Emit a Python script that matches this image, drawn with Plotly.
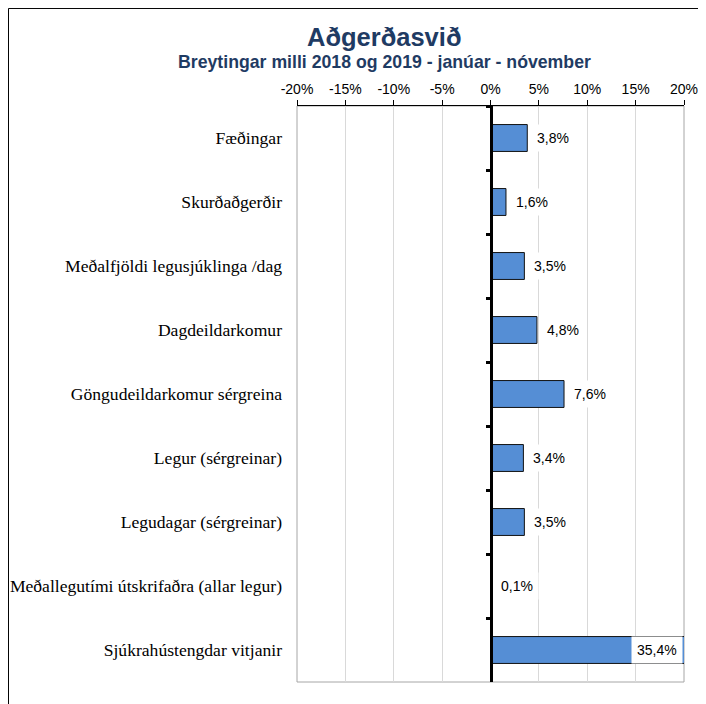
import plotly.graph_objects as go

categories = [
    "Fæðingar",
    "Skurðaðgerðir",
    "Meðalfjöldi legusjúklinga /dag",
    "Dagdeildarkomur",
    "Göngudeildarkomur sérgreina",
    "Legur (sérgreinar)",
    "Legudagar (sérgreinar)",
    "Meðallegutími útskrifaðra (allar legur)",
    "Sjúkrahústengdar vitjanir",
]
change_pct = [3.8, 1.6, 3.5, 4.8, 7.6, 3.4, 3.5, 0.1, 35.4]
x_ticks = [-20, -15, -10, -5, 0, 5, 10, 15, 20]
x_tick_labels = ["-20%", "-15%", "-10%", "-5%", "0%", "5%", "10%", "15%", "20%"]

title_text = "Aðgerðasvið"
subtitle_text = "Breytingar milli 2018 og 2019 - janúar - nóvember"

x_min, x_max = -20, 20
navy = "#1F3B63"
sans = "Liberation Sans, Arial, sans-serif"
serif = "Liberation Serif, Times New Roman, serif"

fig = go.Figure()

fig.add_trace(go.Bar(
    x=change_pct, y=categories, orientation="h", width=0.42,
    marker=dict(color="#558ED5", line=dict(color="#111111", width=1)),
    hoverinfo="x+y", showlegend=False,
))

# invisible helper trace so the zero axis (y2) gets the same categories
fig.add_trace(go.Scatter(
    x=[0] * len(categories), y=categories, yaxis="y2", mode="markers",
    marker=dict(opacity=0), hoverinfo="skip", showlegend=False,
))

# data labels (white box behind, like the original)
for cat, v in zip(categories, change_pct):
    label = f"{v:.1f}".replace(".", ",") + "%"
    clipped = v > x_max
    fig.add_annotation(
        x=min(v, x_max), y=cat, xref="x", yref="y",
        text=label, showarrow=False,
        xanchor="right" if clipped else "left",
        xshift=-1 if clipped else 4,
        bgcolor="white", borderpad=5,
        font=dict(family=sans, size=14, color="black"),
    )

# titles
fig.add_annotation(
    x=0.225, y=1.1198, xref="paper", yref="paper", text="<b>" + title_text + "</b>",
    showarrow=False, xanchor="center", yanchor="middle",
    font=dict(family=sans, size=25.5, color=navy),
)
fig.add_annotation(
    x=0.225, y=1.0764, xref="paper", yref="paper", text="<b>" + subtitle_text + "</b>",
    showarrow=False, xanchor="center", yanchor="middle",
    font=dict(family=sans, size=17.7, color=navy),
)

# plot area frame and outer chart border
fig.add_shape(type="rect", xref="x domain", yref="y domain", x0=0, x1=1, y0=0, y1=1,
              line=dict(color="#a6a6a6", width=1), layer="below")
fig.add_shape(type="rect", xref="paper", yref="paper", x0=-0.7455, x1=1.3, y0=-0.2, y1=1.1693,
              line=dict(color="black", width=1))

fig.update_layout(
    width=698, height=696,
    margin=dict(l=289, r=22, t=98, b=22),
    plot_bgcolor="white", paper_bgcolor="white",
    separators=",.",
    xaxis=dict(
        range=[x_min, x_max], side="top", tickvals=x_ticks, ticktext=x_tick_labels,
        automargin=False,
        showgrid=True, gridcolor="#d9d9d9", gridwidth=1, zeroline=False,
        showline=True, linecolor="black", linewidth=1,
        ticks="outside", ticklen=5, tickcolor="black",
        tickfont=dict(family=sans, size=14, color="black"),
    ),
    yaxis=dict(
        type="category", categoryorder="array", categoryarray=categories,
        range=[len(categories) - 0.5, -0.5], automargin=False,
        showgrid=False, zeroline=False, showline=False, ticks="",
        ticklabelstandoff=14,
        tickfont=dict(family=serif, size=17.6, color="black"),
    ),
    yaxis2=dict(
        type="category", categoryorder="array", categoryarray=categories,
        range=[len(categories) - 0.5, -0.5], automargin=False,
        overlaying="y", anchor="free",
        position=(0 - x_min) / (x_max - x_min),
        showline=True, linecolor="black", linewidth=3,
        ticks="outside", tickson="boundaries", ticklen=4, tickwidth=3, tickcolor="black",
        showticklabels=False, showgrid=False, zeroline=False,
    ),
)

fig.write_html("out.html")
